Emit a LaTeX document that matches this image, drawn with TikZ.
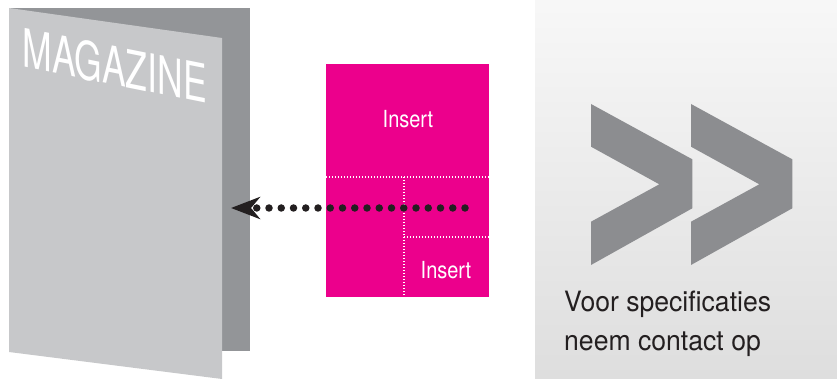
\documentclass[tikz,border=0pt]{standalone}
\usepackage{fontspec}
\setmainfont{TeX Gyre Heros}
\usetikzlibrary{arrows.meta}

\definecolor{backgray}{HTML}{939598}
\definecolor{pagegray}{HTML}{C7C8CA}
\definecolor{insertpink}{HTML}{EC008C}
\definecolor{chevrongray}{HTML}{8C8D90}
\definecolor{inkblack}{HTML}{231F20}

\tikzset{
    cutline/.style={white, line width=1.2pt, dash pattern=on 1.2pt off 1.8pt},
    dotted_arrow/.style={inkblack, line width=7.5pt, line cap=round,
        dash pattern=on 0pt off 12.25pt,
        -{Stealth[length=29pt, width=22pt, inset=9pt]}},
    insert_label/.style={text=white, inner sep=0, xscale=0.85,
        font=\fontsize{23.5}{24}\selectfont},
    contact_label/.style={anchor=base west, inner sep=0, text=inkblack, xscale=0.95,
        font=\fontsize{28}{30}\selectfont}
}

\begin{document}
\begin{tikzpicture}[x=1pt, y=-1pt]
        \useasboundingbox (0,0) rectangle (837,379);

        % magazine
        \fill[backgray] (9,8) rectangle (250,351);
        \fill[pagegray] (9,8) -- (222,38) -- (222,379) -- (9,352) -- cycle;
        \node[anchor=base west, text=white, inner sep=0, xscale=0.67, yslant=-0.135,
            font=\fontsize{53}{53}\selectfont] (magazine_title) at (22.5,66.5) {MAGAZINE};

        % insert
        \node[fill=insertpink, minimum width=163pt, minimum height=233pt,
            inner sep=0, anchor=north west] (insert) at (326,64) {};
        \draw[cutline] (insert.west |- 0,177) -- (insert.east |- 0,177);
        \draw[cutline] (404,177) -- (404,297);
        \draw[cutline] (404,237) -- (489,237);

        \node[insert_label] (insert_top) at (408,119) {Insert};
        \node[insert_label] (insert_bottom) at (446,270) {Insert};

        \coordinate (arrow_start) at (465,208);
        \coordinate (arrow_tip) at (231,208);
        \draw[dotted_arrow] (arrow_start) -- (arrow_tip);

        % contact panel
        \shade[top color=black!3, bottom color=black!13] (535,0) rectangle (837,379);
        \foreach \dx in {0,100} {
            \fill[chevrongray, shift={(\dx,0)}] (591,104) -- (692.3,159.3) -- (692.3,208.3)
                -- (591,265) -- (591,221.7) -- (659.3,184.3) -- (591,146.7) -- cycle;
        }

        \node[contact_label] (contact_top) at (564,311.7) {Voor specificaties};
        \node[contact_label] (contact_bottom) at (564,350) {neem contact op};
    \end{tikzpicture}
\end{document}
